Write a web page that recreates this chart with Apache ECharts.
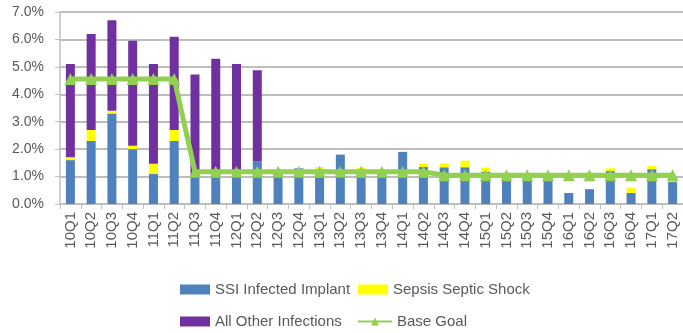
<!DOCTYPE html>
<html>
<head>
<meta charset="utf-8">
<script src="https://cdn.jsdelivr.net/npm/echarts@6/dist/echarts.min.js"></script>
<style>
  html, body { margin: 0; padding: 0; background: #fff; }
  #chart { width: 683px; height: 333px; }
</style>
</head>
<body>
<div id="chart"></div>
<script>
// Quarterly infection rates (percent) by infection type, with the base goal line
const quarters = ['10Q1','10Q2','10Q3','10Q4','11Q1','11Q2','11Q3','11Q4','12Q1','12Q2',
                  '12Q3','12Q4','13Q1','13Q2','13Q3','13Q4','14Q1','14Q2','14Q3','14Q4',
                  '15Q1','15Q2','15Q3','15Q4','16Q1','16Q2','16Q3','16Q4','17Q1','17Q2'];

const ssiInfectedImplant = [1.6, 2.3, 3.3, 2.0, 1.1, 2.3, 1.0, 1.0, 1.0, 1.55,
                            1.1, 1.3, 1.25, 1.8, 1.25, 1.1, 1.9, 1.35, 1.34, 1.34,
                            1.18, 1.1, 1.1, 1.0, 0.4, 0.54, 1.2, 0.4, 1.27, 0.8];

const sepsisSepticShock = [0.1, 0.4, 0.1, 0.12, 0.37, 0.4, 0, 0, 0, 0,
                           0, 0, 0.1, 0, 0.07, 0, 0, 0.13, 0.14, 0.24,
                           0.15, 0, 0, 0, 0, 0, 0.1, 0.2, 0.12, 0.05];

const allOtherInfections = [3.4, 3.5, 3.3, 3.83, 3.63, 3.4, 3.72, 4.3, 4.1, 3.33,
                            0, 0, 0, 0, 0, 0, 0, 0, 0, 0,
                            0, 0, 0, 0, 0, 0, 0, 0, 0, 0];

const baseGoal = [4.56, 4.56, 4.56, 4.56, 4.56, 4.56, 1.18, 1.18, 1.18, 1.18,
                  1.18, 1.18, 1.18, 1.18, 1.18, 1.18, 1.18, 1.18, 1.05, 1.05,
                  1.05, 1.05, 1.05, 1.05, 1.05, 1.05, 1.05, 1.05, 1.05, 1.05];

const yTicks = { min: 0, max: 7, interval: 1 };

const textColor = '#595959';
const fontFamily = '"Liberation Sans", Arial, sans-serif';

const chart = echarts.init(document.getElementById('chart'), null, { renderer: 'canvas' });

function legendAt(name, left, top, extra) {
  return Object.assign({
    data: [name],
    left: left,
    top: top,
    orient: 'horizontal',
    icon: 'rect',
    itemWidth: 30,
    itemHeight: 10,
    itemGap: 6,
    padding: 0,
    selectedMode: false,
    textStyle: { color: textColor, fontSize: 15, fontFamily: fontFamily }
  }, extra || {});
}

const option = {
  animation: false,
  backgroundColor: '#ffffff',
  grid: { left: 60, top: 12, width: 624, height: 192, containLabel: false },
  legend: [
    legendAt('SSI Infected Implant', 180, 282),
    legendAt('Sepsis Septic Shock', 358, 282),
    legendAt('All Other Infections', 180, 314),
    // line series keeps its own line + marker icon
    legendAt('Base Goal', 357, 314, { itemWidth: 34, icon: null })
  ],
  xAxis: {
    type: 'category',
    data: quarters,
    boundaryGap: true,
    axisLine: { show: true, lineStyle: { color: '#BFBFBF', width: 1.5 } },
    axisTick: { show: true, alignWithLabel: false, length: 5, lineStyle: { color: '#BFBFBF', width: 1 } },
    axisLabel: {
      interval: 0,
      rotate: 90,
      margin: 8,
      color: textColor,
      fontSize: 15,
      fontFamily: fontFamily
    },
    splitLine: { show: false }
  },
  yAxis: {
    type: 'value',
    min: yTicks.min,
    max: yTicks.max,
    interval: yTicks.interval,
    axisLine: { show: true, lineStyle: { color: '#BFBFBF', width: 1.5 } },
    axisTick: { show: true, inside: false, length: 5, lineStyle: { color: '#BFBFBF' } },
    axisLabel: {
      margin: 16,
      color: textColor,
      fontSize: 14,
      fontFamily: fontFamily,
      formatter: v => v.toFixed(1) + '%'
    },
    splitLine: { show: true, lineStyle: { color: '#BDBDBD', width: 2 } }
  },
  series: [
    {
      name: 'SSI Infected Implant',
      type: 'bar',
      stack: 'rate',
      barWidth: 9,
      itemStyle: { color: '#4F81BD' },
      data: ssiInfectedImplant
    },
    {
      name: 'Sepsis Septic Shock',
      type: 'bar',
      stack: 'rate',
      barWidth: 9,
      itemStyle: { color: '#FFFF00' },
      data: sepsisSepticShock
    },
    {
      name: 'All Other Infections',
      type: 'bar',
      stack: 'rate',
      barWidth: 9,
      itemStyle: { color: '#7030A0' },
      data: allOtherInfections
    },
    {
      name: 'Base Goal',
      type: 'line',
      z: 5,
      data: baseGoal,
      symbol: 'triangle',
      symbolSize: 12,
      showAllSymbol: true,
      lineStyle: { color: '#92D050', width: 5 },
      itemStyle: { color: '#92D050' }
    }
  ]
};

chart.setOption(option);
</script>
</body>
</html>
